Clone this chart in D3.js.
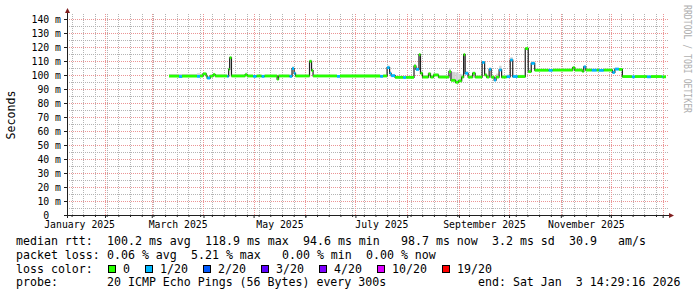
<!DOCTYPE html>
<html>
<head>
<meta charset="utf-8">
<script src="https://cdn.jsdelivr.net/npm/d3@7"></script>
<style>
body { margin: 0; background: #fff; }
svg { display: block; }
text { font-family: "DejaVu Sans Mono", monospace; white-space: pre; }
.grid line { shape-rendering: crispEdges; }
</style>
</head>
<body>
<script>
// median rtt at each change point (step data)
var changeDates = ["2025-03-11T08","2025-03-17T08","2025-03-19T03","2025-03-28T03","2025-03-29T22","2025-03-31T17","2025-04-02T15","2025-04-03T05","2025-04-05T00","2025-04-06T19",
  "2025-04-08T00","2025-04-15T05","2025-04-16T02","2025-04-16T16","2025-04-17T18","2025-04-25T23","2025-04-27T04","2025-04-30T18","2025-05-02T19","2025-05-05T19",
  "2025-05-07T14","2025-05-15T02","2025-05-15T23","2025-05-22T13","2025-05-24T01","2025-05-25T06","2025-05-26T03","2025-06-03T12","2025-06-04T17","2025-06-05T15",
  "2025-06-19T23","2025-06-21T18","2025-07-15T19","2025-07-17T14","2025-07-19T23","2025-07-21T11","2025-07-22T09","2025-07-24T18","2025-07-29T13","2025-07-31T08",
  "2025-08-05T02","2025-08-06T06","2025-08-08T01","2025-08-08T23","2025-08-10T04","2025-08-13T18","2025-08-14T23","2025-08-16T18","2025-08-19T18","2025-08-26T00",
  "2025-08-27T05","2025-08-29T22","2025-08-31T18","2025-09-02T15","2025-09-03T19","2025-09-04T17","2025-09-06T12","2025-09-09T05","2025-09-10T17","2025-09-14T21",
  "2025-09-16T09","2025-09-17T14","2025-09-19T02","2025-09-20T07","2025-09-22T02","2025-09-23T06","2025-09-25T01","2025-09-26T13","2025-09-29T13","2025-10-01T17",
  "2025-10-03T05","2025-10-06T05","2025-10-10T17","2025-10-12T12","2025-10-14T07","2025-10-16T09","2025-10-24T18","2025-10-27T04","2025-11-08T04","2025-11-09T09",
  "2025-11-13T21","2025-11-14T18","2025-11-15T23","2025-11-19T13","2025-11-22T13","2025-11-23T18","2025-11-26T18","2025-12-01T22","2025-12-03T09","2025-12-05T19",
  "2025-12-07T21","2025-12-13T14","2025-12-15T09","2025-12-22T13","2025-12-24T23","2025-12-31T13","2026-01-01T00","2026-01-03T00"];

var medianMs = [99.2,98.9,99.2,99.0,99.3,100.8,99.3,97.8,99.2,100.3,
  99.3,99.0,104.0,112.3,99.3,100.2,99.3,99.0,99.3,99.0,
  99.3,97.0,99.3,99.0,104.6,101.2,99.3,109.8,103.2,99.3,
  99.0,99.3,99.0,99.3,105.3,101.2,99.5,98.3,98.2,98.3,
  106.4,104.0,114.5,101.2,98.5,100.8,98.5,100.0,98.5,102.4,
  96.2,94.8,95.8,98.5,114.5,101.2,98.5,101.2,98.5,109.0,
  100.0,98.5,104.0,98.5,96.4,98.5,103.6,98.5,98.8,110.7,
  98.9,98.9,118.9,102.4,108.3,103.4,103.3,103.5,105.2,103.5,
  102.6,105.8,103.5,103.4,103.5,103.3,103.5,101.8,104.2,104.0,
  98.9,98.7,98.9,98.7,98.9,98.7,98.7,98.7];

// index into lossLabels / lossColors
var lossIdx = [0,1,0,1,0,0,0,1,0,0,
  0,1,0,0,0,0,0,1,0,1,
  0,0,0,1,1,1,0,0,0,0,
  1,0,1,0,1,1,1,0,1,0,
  0,1,0,0,0,0,0,0,0,0,
  0,0,0,0,0,1,0,0,0,1,
  0,0,1,0,1,0,1,0,1,1,
  1,0,0,0,1,0,1,0,0,0,
  0,1,0,1,0,1,0,1,1,0,
  0,1,0,1,0,1,0,0];

// how far the smoke reaches above the median, ms
var smokeUp = [1.5,1.8,1.5,2.2,1.6,1.0,1.5,1.5,1.0,1.2,
  1.2,1.0,2.0,1.0,1.2,1.5,1.0,1.0,1.0,1.2,
  1.0,1.5,1.0,1.5,1.5,1.5,1.0,1.0,1.5,1.0,
  1.0,1.0,1.2,1.0,1.5,1.5,1.2,1.2,1.2,1.2,
  1.5,1.5,1.0,1.5,1.5,1.2,1.2,1.2,1.5,2.0,
  6.0,7.0,5.0,2.0,1.0,1.5,1.2,1.2,1.2,1.0,
  1.5,1.2,1.5,1.2,2.0,2.5,3.0,1.5,1.5,2.0,
  1.2,1.2,1.0,1.5,1.5,1.0,1.0,1.0,1.0,1.0,
  1.0,1.0,1.0,1.0,1.0,1.0,1.0,1.5,1.0,1.0,
  1.0,1.0,1.0,1.0,1.0,1.0,1.0,1.0];

var lossLabels = ["0","1/20","2/20","3/20","4/20","10/20","19/20"];
var lossColors = ["#26ff00","#00b8ff","#0059ff","#5e00ff","#7e00ff","#dd00ff","#ff0000"];

var yTicks = [0,10,20,30,40,50,60,70,80,90,100,110,120,130,140];
var yMinor = [5,15,25,35,45,55,65,75,85,95,105,115,125,135];
var monthLabels = ["2025-01","2025-03","2025-05","2025-07","2025-09","2025-11"];

var rttStats = ["100.2 ms avg","118.9 ms max","94.6 ms min","98.7 ms now","3.2 ms sd","30.9","am/s"];
var lossStats = ["0.06 % avg","5.21 % max","0.00 % min","0.00 % now"];
var probeText = "20 ICMP Echo Pings (56 Bytes) every 300s";
var endText = "end: Sat Jan  3 14:29:16 2026";

var startTime = new Date(Date.UTC(2025, 0, 9, 6, 0));
var endTime = new Date(Date.UTC(2026, 0, 3, 14, 29));

var margin = {top: 15, right: 30, bottom: 82, left: 67};
var W = 697, H = 297;
var width = W - margin.left - margin.right,
    height = H - margin.top - margin.bottom;

var parseT = d3.utcParse("%Y-%m-%dT%H");
var parseM = d3.utcParse("%Y-%m");

var data = changeDates.map(function(d, i){
  return {t: parseT(d), v: medianMs[i], loss: lossIdx[i], up: smokeUp[i]};
});

var svg = d3.select("body").append("svg")
    .attr("width", W)
    .attr("height", H);

var g = svg.append("g")
    .attr("transform", "translate(" + margin.left + "," + margin.top + ")");

var x = d3.scaleUtc().domain([startTime, endTime]).range([0, width]);
var y = d3.scaleLinear().domain([0, 200 / 1.4]).range([height, 0]);

function px(v){ return Math.round(v) + 0.5; }

// grid: minor (grey dots) first, then major (red dots), rrdtool colours
var weeks = d3.utcWeek.range(startTime, endTime);
var months = d3.utcMonth.range(startTime, endTime);

var grid = g.append("g").attr("class", "grid");

grid.selectAll(".vminor").data(weeks).enter().append("line")
    .attr("class", "vminor")
    .attr("x1", function(d){ return px(x(d)); })
    .attr("x2", function(d){ return px(x(d)); })
    .attr("y1", -1).attr("y2", height)
    .attr("stroke", "#b4b4b4").attr("stroke-dasharray", "1,1");

grid.selectAll(".hminor").data(yMinor).enter().append("line")
    .attr("class", "hminor")
    .attr("x1", 0).attr("x2", width + 1)
    .attr("y1", function(d){ return px(y(d)); })
    .attr("y2", function(d){ return px(y(d)); })
    .attr("stroke", "#b4b4b4").attr("stroke-dasharray", "1,1");

grid.selectAll(".vmajor").data(months).enter().append("line")
    .attr("class", "vmajor")
    .attr("x1", function(d){ return px(x(d)); })
    .attr("x2", function(d){ return px(x(d)); })
    .attr("y1", -1).attr("y2", height)
    .attr("stroke", "#eb9595").attr("stroke-dasharray", "1,1");

grid.selectAll(".hmajor").data(yTicks.slice(1)).enter().append("line")
    .attr("class", "hmajor")
    .attr("x1", 0).attr("x2", width + 1)
    .attr("y1", function(d){ return px(y(d)); })
    .attr("y2", function(d){ return px(y(d)); })
    .attr("stroke", "#eb9595").attr("stroke-dasharray", "1,1");

// smoke
var segs = data.slice(0, -1).map(function(d, i){
  return {t0: d.t, t1: data[i + 1].t, v: d.v, loss: d.loss, up: d.up};
});

g.selectAll(".smoke").data(segs).enter().append("rect")
    .attr("class", "smoke")
    .attr("x", function(d){ return x(d.t0); })
    .attr("width", function(d){ return Math.max(1, x(d.t1) - x(d.t0)); })
    .attr("y", function(d){ return y(d.v + d.up); })
    .attr("height", function(d){ return y(d.v - 0.5) - y(d.v + d.up); })
    .attr("fill", "#d2d2d2");

// thin dark median line (gives the vertical strokes)
var stepLine = d3.line()
    .curve(d3.curveStepAfter)
    .x(function(d){ return x(d.t); })
    .y(function(d){ return y(d.v); });

g.append("path")
    .datum(data)
    .attr("d", stepLine)
    .attr("fill", "none")
    .attr("stroke", "#202020")
    .attr("stroke-width", 1.2);

// loss coloured median
g.selectAll(".med").data(segs).enter().append("line")
    .attr("class", "med")
    .attr("x1", function(d){ return x(d.t0); })
    .attr("x2", function(d){ return Math.max(x(d.t0) + 1, x(d.t1)); })
    .attr("y1", function(d){ return y(d.v); })
    .attr("y2", function(d){ return y(d.v); })
    .attr("stroke", function(d){ return lossColors[d.loss]; })
    .attr("stroke-width", 2.8);

// axes
var yAxis = d3.axisLeft(y)
    .tickValues(yTicks)
    .tickSize(3)
    .tickPadding(3)
    .tickFormat(function(d){ return d === 0 ? "0" : d + " m"; });

var ya = g.append("g").attr("class", "y axis").call(yAxis);
ya.select(".domain").remove();
ya.selectAll("text")
    .attr("fill", "#000")
    .style("font-size", "9.8px")
    .attr("x", function(d){ return d === 0 ? -6 - 2 * 5.9 : -6; });
ya.selectAll("line").attr("stroke", "#1f1f1f");

var xMinorAxis = d3.axisBottom(x).tickValues(weeks).tickSize(2).tickFormat("");
var xMajorAxis = d3.axisBottom(x).tickValues(months).tickSize(3).tickFormat("");
var xa1 = g.append("g").attr("transform", "translate(0," + height + ")").call(xMinorAxis);
var xa2 = g.append("g").attr("transform", "translate(0," + height + ")").call(xMajorAxis);
xa1.select(".domain").remove();
xa2.select(".domain").remove();
xa1.selectAll("line").attr("stroke", "#1f1f1f");
xa2.selectAll("line").attr("stroke", "#1f1f1f");

// month labels centred mid-month
var labelTimes = monthLabels.map(function(m){
  var a = parseM(m), b = d3.utcMonth.offset(a, 1);
  return new Date((+a + +b) / 2);
});
var xLabelAxis = d3.axisBottom(x)
    .tickValues(labelTimes)
    .tickSize(0)
    .tickPadding(6)
    .tickFormat(d3.utcFormat("%B %Y"));
var xl = g.append("g").attr("transform", "translate(0," + height + ")").call(xLabelAxis);
xl.select(".domain").remove();
xl.selectAll("text").attr("fill", "#000").style("font-size", "9.8px");

// axis lines + arrows
g.append("line")
    .attr("x1", -3).attr("x2", width + 3)
    .attr("y1", height + 0.5).attr("y2", height + 0.5)
    .attr("stroke", "#1f1f1f");
g.append("line")
    .attr("x1", 0.5).attr("x2", 0.5)
    .attr("y1", height + 3).attr("y2", -3)
    .attr("stroke", "#1f1f1f");
g.append("path")
    .attr("d", "M" + (width + 2) + "," + (height - 2) + "L" + (width + 7) + "," + (height + 0.5) + "L" + (width + 2) + "," + (height + 3) + "Z")
    .attr("fill", "#801f1f");
g.append("path")
    .attr("d", "M-2,-2L0.5,-7L3,-2Z")
    .attr("fill", "#801f1f");

// y title
svg.append("text")
    .attr("transform", "translate(15," + (margin.top + height / 2) + ") rotate(-90)")
    .attr("text-anchor", "middle")
    .style("font-size", "11.6px")
    .text("Seconds");

// watermark
svg.append("text")
    .attr("transform", "translate(684,5) rotate(90)")
    .attr("textLength", 108)
    .attr("lengthAdjust", "spacingAndGlyphs")
    .attr("fill", "#b0b0b0")
    .style("font-size", "10px")
    .text("RRDTOOL / TOBI OETIKER");

// legend
var cw = 7, lx = 16, fs = "11.6px";
var rows = [245, 258.8, 272.6, 286.4];

function legendText(col, row, s){
  svg.append("text")
      .attr("x", lx + col * cw)
      .attr("y", rows[row])
      .attr("xml:space", "preserve")
      .style("font-size", fs)
      .text(s);
}

legendText(0, 0, "median rtt:");
[13, 27, 41, 55, 68, 79, 86].forEach(function(c, i){ legendText(c, 0, rttStats[i]); });

legendText(0, 1, "packet loss:");
[13, 25, 38, 50].forEach(function(c, i){ legendText(c, 1, lossStats[i]); });

legendText(0, 2, "loss color:");
var bx = 108.3;
lossLabels.forEach(function(lab, i){
  svg.append("rect")
      .attr("x", Math.round(bx) + 0.5)
      .attr("y", 265.5)
      .attr("width", 7).attr("height", 7)
      .attr("fill", lossColors[i])
      .attr("stroke", "#000");
  var tx = bx + 14.8;
  svg.append("text")
      .attr("x", tx).attr("y", rows[2])
      .style("font-size", fs)
      .text(lab);
  bx = tx + lab.length * cw + 15.2;
});

legendText(0, 3, "probe:");
legendText(13, 3, probeText);
legendText(66, 3, endText);
</script>
</body>
</html>
